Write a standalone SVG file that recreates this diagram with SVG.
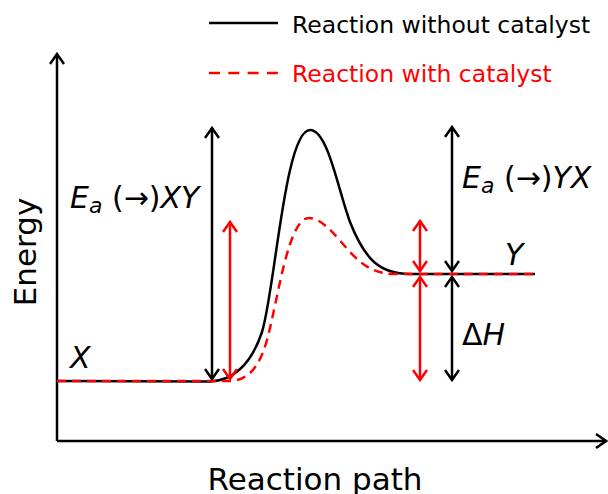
<svg xmlns="http://www.w3.org/2000/svg" width="608" height="494" viewBox="0 0 608 494">
<style>
text{font-family:"DejaVu Sans","Liberation Sans",sans-serif;}
.it{font-style:italic;font-size:30px;}
.blk{stroke:#000;stroke-width:2.5;fill:none;}
.red{stroke:#f00;stroke-width:2.5;fill:none;}
.dash{stroke-dasharray:9,6;}
</style>
<defs>
<marker id="ak" viewBox="-11 -8 13 16" markerWidth="13" markerHeight="16" refX="0" refY="0" orient="auto-start-reverse" markerUnits="userSpaceOnUse">
<path d="M-10,-7 L0,0 L-10,7" fill="none" stroke="#000" stroke-width="2.5"/>
</marker>
<marker id="ar" viewBox="-11 -8 13 16" markerWidth="13" markerHeight="16" refX="0" refY="0" orient="auto-start-reverse" markerUnits="userSpaceOnUse">
<path d="M-10,-7 L0,0 L-10,7" fill="none" stroke="#f00" stroke-width="2.5"/>
</marker>
</defs>
<g id="axes">
<path class="blk" d="M57,441 L57,54" marker-end="url(#ak)"/>
<path class="blk" d="M57,441 L606,441" marker-end="url(#ak)"/>
<text x="36" y="252" font-size="31" text-anchor="middle" transform="rotate(-90 36 252)">Energy</text>
<text x="315" y="490" font-size="31" text-anchor="middle">Reaction path</text>
</g>
<g id="legend">
<line class="blk" x1="209" y1="23" x2="278" y2="23"/>
<text x="292" y="33" font-size="23.5">Reaction without catalyst</text>
<line class="red" x1="209" y1="73" x2="278" y2="73" stroke-dasharray="11,8.3"/>
<text x="292" y="82" font-size="23.5" fill="#f00">Reaction with catalyst</text>
</g>
<g id="curves">
<path id="uncatalysed" class="blk" d="M57,381 L210,381.5 C230,381 250,368 262,332 C275,290 285,130 310,130 C328,130 338,190 350,222 C365,260 380,274 410,274 L535,274"/>
<path id="catalysed" class="red dash" d="M57,381 L228,381 C245,381 258,372 267,340 C278,300 288,218 309,218 C322,218 335,235 350,252 C363,266 375,274 395,274 L535,274"/>
</g>
<g id="connectors">
<path class="blk" d="M212,128 L212,379" marker-start="url(#ak)" marker-end="url(#ak)"/>
<path class="red" d="M230,222 L230,379" marker-start="url(#ar)" marker-end="url(#ar)"/>
<path class="blk" d="M452,127 L452,271" marker-start="url(#ak)" marker-end="url(#ak)"/>
<path class="blk" d="M452,277 L452,380" marker-start="url(#ak)" marker-end="url(#ak)"/>
<path class="red" d="M420,221 L420,271" marker-start="url(#ar)" marker-end="url(#ar)"/>
<path class="red" d="M420,277 L420,380" marker-start="url(#ar)" marker-end="url(#ar)"/>
</g>
<g id="labels">
<text class="it" x="70" y="208">E<tspan font-size="22" dy="5">a</tspan><tspan dy="-5" font-style="normal"> (→)</tspan>XY</text>
<text class="it" x="462" y="188">E<tspan font-size="22" dy="5">a</tspan><tspan dy="-5" font-style="normal"> (→)</tspan>YX</text>
<text class="it" x="70" y="368">X</text>
<text class="it" x="505" y="265">Y</text>
<text class="it" x="462" y="345"><tspan font-style="normal">Δ</tspan>H</text>
</g>
</svg>
